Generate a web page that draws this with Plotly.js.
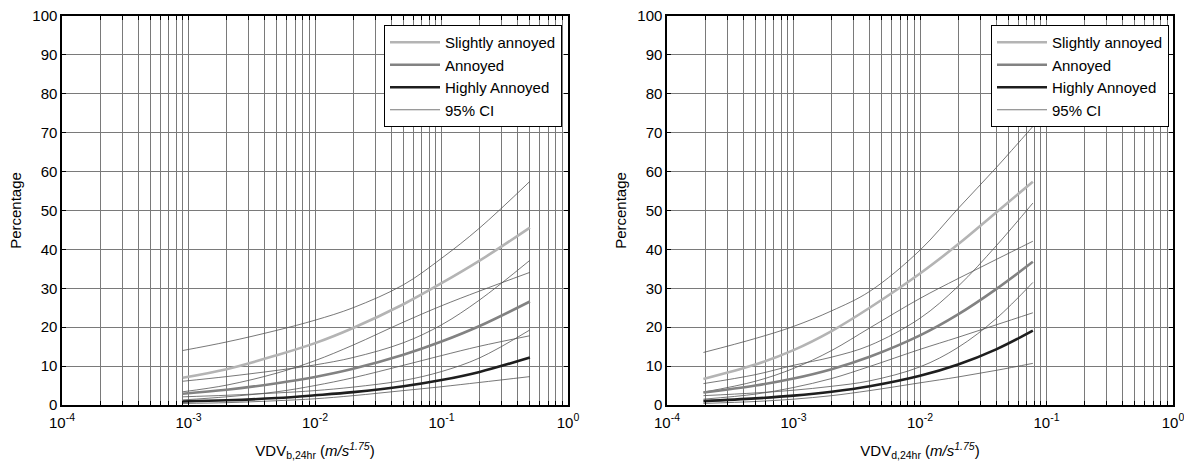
<!DOCTYPE html>
<html><head><meta charset="utf-8">
<script src="https://cdn.plot.ly/plotly-3.0.1.min.js"></script>
<style>html,body{margin:0;padding:0;background:#fff}#chart{width:1184px;height:461px}</style>
</head><body><div id="chart"></div>
<script>
// ---- data: left panel (VDV b,24hr) ----
const xLeft      = [0.0009, 0.002, 0.005, 0.01, 0.02, 0.05, 0.1, 0.2, 0.5];
const saLeft     = [7.0, 9.2, 12.8, 15.9, 19.8, 25.9, 31.3, 37.1, 45.6];
const saLeftUp   = [14.0, 16.2, 19.2, 21.8, 25.0, 30.9, 37.7, 45.5, 57.5];
const saLeftLo   = [3.4, 5.1, 8.2, 11.4, 15.4, 21.3, 25.5, 29.3, 34.1];
const aLeft      = [2.9, 3.9, 5.6, 7.2, 9.3, 12.9, 16.3, 20.3, 26.6];
const aLeftUp    = [6.1, 7.3, 8.9, 10.3, 12.2, 16.0, 20.6, 27.0, 37.2];
const aLeftLo    = [1.3, 2.1, 3.4, 5.0, 7.0, 10.2, 12.7, 15.1, 17.8];
const haLeft     = [0.9, 1.2, 1.8, 2.5, 3.3, 4.8, 6.4, 8.5, 12.2];
const haLeftUp   = [2.1, 2.5, 3.1, 3.7, 4.6, 6.3, 8.6, 12.1, 19.3];
const haLeftLo   = [0.4, 0.6, 1.1, 1.6, 2.4, 3.7, 4.7, 5.8, 7.3];

// ---- data: right panel (VDV d,24hr) ----
const xRight     = [0.000194, 0.0005, 0.001, 0.002, 0.004, 0.01, 0.02, 0.04, 0.078];
const saRight    = [6.7, 10.4, 14.1, 19.0, 25.0, 33.8, 41.3, 49.5, 57.4];
const saRightUp  = [13.5, 17.1, 20.2, 24.2, 29.2, 39.8, 50.5, 61.0, 71.6];
const saRightLo  = [3.3, 6.1, 9.4, 14.0, 19.8, 27.4, 32.5, 37.4, 42.1];
const aRight     = [3.2, 5.0, 6.8, 9.2, 12.4, 17.9, 23.3, 29.8, 36.8];
const aRightUp   = [5.5, 7.8, 10.2, 12.3, 15.3, 22.3, 30.5, 40.9, 51.9];
const aRightLo   = [1.5, 2.8, 4.5, 6.8, 9.9, 14.3, 17.4, 20.6, 23.7];
const haRight    = [1.0, 1.7, 2.4, 3.4, 4.8, 7.5, 10.4, 14.3, 19.1];
const haRightUp  = [2.4, 3.1, 3.8, 4.8, 6.2, 9.8, 14.8, 22.2, 31.5];
const haRightLo  = [0.4, 0.9, 1.5, 2.4, 3.7, 5.7, 7.2, 8.9, 10.7];

// ---- ticks / labels ----
const xTickVals = [0.0001,0.0002,0.0003,0.0004,0.0005,0.0006,0.0007,0.0008,0.0009,
                   0.001,0.002,0.003,0.004,0.005,0.006,0.007,0.008,0.009,
                   0.01,0.02,0.03,0.04,0.05,0.06,0.07,0.08,0.09,
                   0.1,0.2,0.3,0.4,0.5,0.6,0.7,0.8,0.9,1];
const xTickText = ['10<sup>-4</sup>','','','','','','','','',
                   '10<sup>-3</sup>','','','','','','','','',
                   '10<sup>-2</sup>','','','','','','','','',
                   '10<sup>-1</sup>','','','','','','','','',
                   '10<sup>0</sup>'];
const yTickVals = [0,10,20,30,40,50,60,70,80,90,100];
const seriesNames = ['Slightly annoyed','Annoyed','Highly Annoyed','95% CI'];
const xTitles = ['VDV<sub>b,24hr</sub> (<i>m/s<sup>1.75</sup></i>)',
                 'VDV<sub>d,24hr</sub> (<i>m/s<sup>1.75</sup></i>)'];
const yTitle = 'Percentage';

const cSA = '#b4b4b4', cA = '#828282', cHA = '#1e1e1e', cCI = '#555555';

function tr(x, y, color, width, name, xa, ya, leg, show, rank) {
  return {x: x, y: y, type: 'scatter', mode: 'lines', name: name,
          line: {color: color, width: width, shape: 'spline', smoothing: 1},
          xaxis: xa, yaxis: ya, legend: leg, showlegend: show, legendrank: rank,
          hoverinfo: 'skip'};
}

function panel(xv, sa, saU, saL, a, aU, aL, ha, haU, haL, xa, ya, leg) {
  return [
    tr(xv, saU, cCI, 0.8, seriesNames[3], xa, ya, leg, true, 4),
    tr(xv, saL, cCI, 0.8, seriesNames[3], xa, ya, leg, false, 4),
    tr(xv, aU, cCI, 0.8, seriesNames[3], xa, ya, leg, false, 4),
    tr(xv, aL, cCI, 0.8, seriesNames[3], xa, ya, leg, false, 4),
    tr(xv, haU, cCI, 0.8, seriesNames[3], xa, ya, leg, false, 4),
    tr(xv, haL, cCI, 0.8, seriesNames[3], xa, ya, leg, false, 4),
    tr(xv, sa, cSA, 2.6, seriesNames[0], xa, ya, leg, true, 1),
    tr(xv, a, cA, 2.6, seriesNames[1], xa, ya, leg, true, 2),
    tr(xv, ha, cHA, 2.6, seriesNames[2], xa, ya, leg, true, 3)
  ];
}

const data = [].concat(
  panel(xLeft, saLeft, saLeftUp, saLeftLo, aLeft, aLeftUp, aLeftLo, haLeft, haLeftUp, haLeftLo, 'x', 'y', 'legend'),
  panel(xRight, saRight, saRightUp, saRightLo, aRight, aRightUp, aRightLo, haRight, haRightUp, haRightLo, 'x2', 'y2', 'legend2')
);

const gridStyle = {showgrid: true, gridcolor: '#7a7a7a', gridwidth: 1};

function xAxis(domain, anchor, title) {
  return Object.assign({
    type: 'log', domain: domain, anchor: anchor, range: [-4, 0],
    tickmode: 'array', tickvals: xTickVals, ticktext: xTickText,
    ticks: 'inside', ticklen: 4, tickwidth: 1, tickcolor: '#000',
    showline: true, linecolor: '#000', linewidth: 1.6, mirror: 'ticks',
    zeroline: false, tickfont: {size: 15}, ticklabelstandoff: 3,
    ticklabeloverflow: 'allow',
    title: {text: title, font: {size: 15}}, fixedrange: true
  }, gridStyle);
}
function yAxis(anchor) {
  return Object.assign({
    domain: [0.1215, 0.9653], anchor: anchor, range: [0, 100],
    tickmode: 'array', tickvals: yTickVals,
    ticks: 'inside', ticklen: 4, tickwidth: 1, tickcolor: '#000',
    showline: true, linecolor: '#000', linewidth: 1.6, mirror: 'ticks',
    zeroline: false, tickfont: {size: 15}, ticklabeloverflow: 'allow',
    title: {text: yTitle, font: {size: 15}}, fixedrange: true
  }, gridStyle);
}
function legendBox(xr) {
  return {x: xr, xanchor: 'right', y: 1 - 25/461, yanchor: 'top',
          bgcolor: '#fff', bordercolor: '#000', borderwidth: 1,
          font: {size: 15}, itemwidth: 50, tracegroupgap: 0};
}

const layout = {
  width: 1184, height: 461,
  margin: {l: 0, r: 0, t: 0, b: 0},
  paper_bgcolor: '#fff', plot_bgcolor: '#fff',
  font: {family: 'Arial, "Liberation Sans", sans-serif', size: 15, color: '#000'},
  showlegend: true,
  xaxis: xAxis([62/1184, 568/1184], 'y', xTitles[0]),
  yaxis: yAxis('x'),
  xaxis2: xAxis([667/1184, 1173/1184], 'y2', xTitles[1]),
  yaxis2: yAxis('x2'),
  legend: legendBox(562/1184),
  legend2: legendBox(1169/1184)
};

Plotly.newPlot('chart', data, layout, {staticPlot: true, displayModeBar: false});
</script>
</body></html>
